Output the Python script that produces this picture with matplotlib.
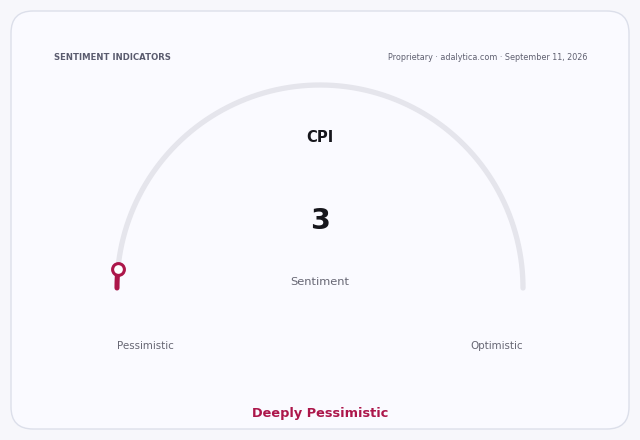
import numpy as np
import matplotlib
matplotlib.use("Agg")
import matplotlib.pyplot as plt
from matplotlib.patches import FancyBboxPatch

# ---- data ----
indicator = "CPI"
value = 3
scale_min = 0
scale_max = 100
scale_labels = ["Pessimistic", "Optimistic"]
value_caption = "Sentiment"
verdict = "Deeply Pessimistic"
header = "SENTIMENT INDICATORS"
source = "Proprietary · adalytica.com · September 11, 2026"

W, H = 640, 440
fig = plt.figure(figsize=(W / 100, H / 100), dpi=100)
fig.patch.set_facecolor("#f7f7fb")
ax = fig.add_axes([0, 0, 1, 1])
ax.set_xlim(0, W)
ax.set_ylim(H, 0)
ax.set_aspect("equal")
ax.axis("off")

card = FancyBboxPatch((11, 11), 618, 418, boxstyle="round,pad=0,rounding_size=22",
                      facecolor="#fafaff", edgecolor="#dcdfea", linewidth=1.0)
ax.add_patch(card)

cx, cy, r = 320, 288, 203
accent = "#ac164a"

def ang(v):
    return np.pi * (1 - (v - scale_min) / (scale_max - scale_min))

t = np.linspace(ang(scale_min), ang(scale_max), 400)
ax.plot(cx + r * np.cos(t), cy - r * np.sin(t), color="#e5e5ec", lw=3.8,
        solid_capstyle="round", zorder=2)

tv = np.linspace(ang(scale_min), ang(value), 50)
ax.plot(cx + r * np.cos(tv), cy - r * np.sin(tv), color=accent, lw=3.6,
        solid_capstyle="round", zorder=3)
ax.plot([cx + r * np.cos(ang(value))], [cy - r * np.sin(ang(value))], marker="o",
        markersize=8.5, markerfacecolor="white", markeredgecolor=accent,
        markeredgewidth=2.2, zorder=4)

ax.text(54, 57, header, fontsize=6.1, fontweight="bold", color="#5a5b6e",
        ha="left", va="center")
ax.text(587, 57, source, fontsize=5.8, color="#5f6070", ha="right", va="center")
ax.text(cx, 137, indicator, fontsize=10.6, fontweight="bold", color="#16161c",
        ha="center", va="center")
ax.text(cx, 221, f"{value}", fontsize=20.5, fontweight="bold", color="#16161c",
        ha="center", va="center")
ax.text(cx, 282, value_caption, fontsize=8.2, color="#666673", ha="center", va="center")
ax.text(145, 346, scale_labels[0], fontsize=7.4, color="#666673", ha="center", va="center")
ax.text(497, 346, scale_labels[1], fontsize=7.4, color="#666673", ha="center", va="center")
ax.text(cx, 414, verdict, fontsize=9.3, fontweight="bold", color=accent,
        ha="center", va="center")

fig.savefig("out.png", dpi=100, facecolor=fig.get_facecolor())
